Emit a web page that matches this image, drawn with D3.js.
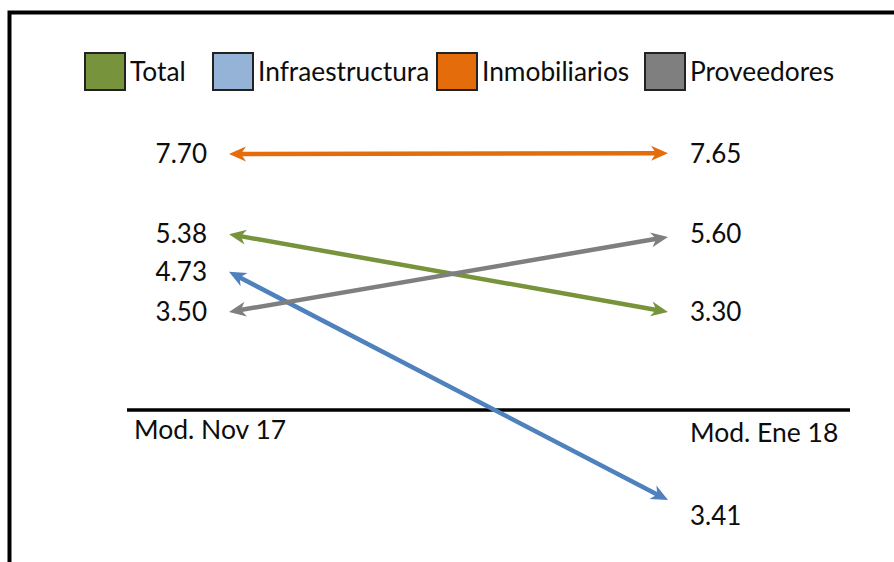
<!DOCTYPE html>
<html>
<head>
<meta charset="utf-8">
<script src="https://cdn.jsdelivr.net/npm/d3@7"></script>
<style>
  html, body { margin: 0; padding: 0; background: #fff; }
  svg { display: block; }
  text { font-family: Lato, "Open Sans", sans-serif; fill: #0d0d0d; }
</style>
</head>
<body>
<svg id="chart" width="894" height="562"></svg>
<script>
// ---- data ----
const categories = ["Mod. Nov 17", "Mod. Ene 18"];
const series = ["Total", "Infraestructura", "Inmobiliarios", "Proveedores"];
const valuesNov17 = [5.38, 4.73, 7.70, 3.50];
const valuesEne18 = [3.30, 3.41, 7.65, 5.60];
// plotted level of each arrow end on the chart's hidden vertical axis
const levelNov17 = [4.43, 3.48, 6.45, 2.47];
const levelEne18 = [2.47, -2.27, 6.47, 4.36];
// level of the value labels on the right side
const labelLevelEne18 = [2.47, -2.65, 6.47, 4.43];

// ---- styles ----
const lineColors = ["#77933C", "#4F81BD", "#E46C0A", "#7F7F7F"];
const legendColors = ["#77933C", "#95B3D7", "#E46C0A", "#7F7F7F"];
const legendX = [84, 212, 436, 644];

const svg = d3.select("#chart");

// frame
svg.append("rect")
  .attr("x", 9.5).attr("y", 12.5)
  .attr("width", 920).attr("height", 600)
  .attr("fill", "none").attr("stroke", "#000").attr("stroke-width", 4);

const x = d3.scalePoint().domain(categories).range([229, 668]);
const y = d3.scaleLinear().domain([-3, 7]).range([529.1, 132.1]);

// arrow markers
const defs = svg.append("defs");
series.forEach((s, i) => {
  defs.append("marker")
    .attr("id", "arrow" + i)
    .attr("viewBox", "-18 -9 20 18")
    .attr("refX", 0).attr("refY", 0)
    .attr("markerWidth", 20).attr("markerHeight", 18)
    .attr("markerUnits", "userSpaceOnUse")
    .attr("orient", "auto-start-reverse")
    .append("path")
    .attr("d", "M0,0 L-17,-7.5 L-12,0 L-17,7.5 Z")
    .attr("fill", lineColors[i]);
});

// category axis line
svg.append("line")
  .attr("x1", 127).attr("x2", 850)
  .attr("y1", y(0)).attr("y2", y(0))
  .attr("stroke", "#000").attr("stroke-width", 3.5);

svg.append("text").attr("x", 134).attr("y", y(0) + 29)
  .attr("font-size", 26.5).text(categories[0]);
svg.append("text").attr("x", 690).attr("y", y(0) + 32)
  .attr("font-size", 26.5).text(categories[1]);

// arrows
const data = series.map((s, i) => ({
  i, s,
  x1: x(categories[0]), y1: y(levelNov17[i]),
  x2: x(categories[1]), y2: y(levelEne18[i])
}));
const shrink = 10;
svg.append("g").selectAll("line").data(data).join("line")
  .each(function(d) {
    const dx = d.x2 - d.x1, dy = d.y2 - d.y1, L = Math.hypot(dx, dy);
    const ux = dx / L, uy = dy / L;
    d3.select(this)
      .attr("x1", d.x1 + ux * shrink).attr("y1", d.y1 + uy * shrink)
      .attr("x2", d.x2 - ux * shrink).attr("y2", d.y2 - uy * shrink);
  })
  .attr("stroke", d => lineColors[d.i])
  .attr("stroke-width", 4.5)
  .attr("fill", "none");

// arrowheads at exact tips
svg.append("g").selectAll("path").data(data).join("path")
  .attr("d", d => `M${d.x1},${d.y1} L${d.x2},${d.y2}`)
  .attr("stroke", "none").attr("fill", "none")
  .attr("marker-start", d => `url(#arrow${d.i})`)
  .attr("marker-end", d => `url(#arrow${d.i})`);

// value labels
const fmt = d3.format(".2f");
svg.append("g").selectAll("text").data(data).join("text")
  .attr("x", d => d.x1 - 22)
  .attr("y", d => d.y1)
  .attr("dy", "0.36em")
  .attr("text-anchor", "end")
  .attr("font-size", 26)
  .text(d => fmt(valuesNov17[d.i]));
svg.append("g").selectAll("text").data(data).join("text")
  .attr("x", d => d.x2 + 22)
  .attr("y", d => y(labelLevelEne18[d.i]))
  .attr("dy", "0.36em")
  .attr("text-anchor", "start")
  .attr("font-size", 26)
  .text(d => fmt(valuesEne18[d.i]));

// legend
const lg = svg.append("g").selectAll("g").data(series).join("g")
  .attr("transform", (d, i) => `translate(${legendX[i]},52)`);
lg.append("rect")
  .attr("x", 1).attr("y", 1).attr("width", 40).attr("height", 37)
  .attr("fill", (d, i) => legendColors[i])
  .attr("stroke", "#222").attr("stroke-width", 2);
lg.append("text")
  .attr("x", 46).attr("y", 29)
  .attr("font-size", 26.3)
  .text(d => d);
</script>
</body>
</html>
